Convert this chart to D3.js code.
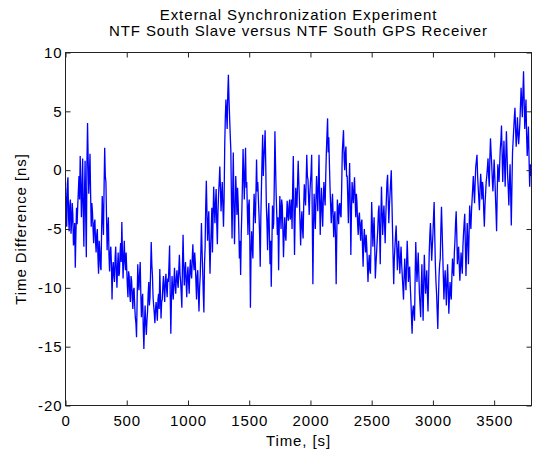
<!DOCTYPE html>
<html>
<head>
<meta charset="utf-8">
<script src="https://cdn.jsdelivr.net/npm/d3@7"></script>
<style>
  html, body { margin: 0; padding: 0; background: #fff; }
  svg { display: block; }
  text { font-family: "Liberation Sans", Arial, Helvetica, sans-serif; fill: #000; }
</style>
</head>
<body>
<svg id="chart" width="536" height="450"></svg>
<script>
// Sampling interval of the logged time difference, seconds
const sampleStep = 5;

// Slave minus GPS receiver time difference, ns (one value per sample)
const timeDiff = [
  -1.5, -3.0, -4.8, -1.2, -0.6, -4.0, -5.2, -3.0, -2.5, -5.4, -4.5, -2.8, -3.8, -6.4, -6.0, -4.5, -8.3, -5.5, -3.2, -4.6,
  -3.0, -1.8, -0.5, -2.5, 1.2, -1.0, -4.0, -2.0, 1.0, -3.5, -6.5, -2.0, 0.8, -4.0, -7.4, 0.5, 4.0, 1.0, -2.0, -0.5,
  1.4, -2.0, -4.8, -2.8, -3.5, -5.0, -6.2, -4.5, -4.2, -6.0, -7.0, -5.5, -5.0, -7.4, -8.8, -6.0, -6.8, -8.2, -8.5, -5.0,
  -2.2, -4.0, -5.5, -1.5, 1.9, -0.5, -1.0, -4.0, -6.8, -5.0, -4.0, -7.2, -8.6, -7.0, -6.5, -8.0, -11.0, -8.5, -7.8, -9.0,
  -9.5, -7.5, -6.5, -8.5, -10.0, -8.2, -7.0, -9.0, -8.8, -7.2, -6.2, -7.8, -4.4, -7.0, -9.2, -7.5, -6.0, -7.8, -8.5, -7.0,
  -8.4, -9.8, -10.8, -8.6, -9.0, -10.5, -11.2, -9.0, -9.4, -10.8, -11.8, -10.2, -10.0, -11.5, -12.5, -13.0, -14.2, -11.0, -8.0, -9.5,
  -10.2, -8.8, -7.8, -10.5, -12.5, -11.0, -10.5, -13.5, -15.2, -13.0, -11.5, -13.0, -14.0, -12.8, -12.0, -10.5, -9.5, -11.5, -10.8, -8.5,
  -6.1, -8.0, -9.0, -10.8, -11.5, -12.2, -13.0, -11.8, -11.2, -12.0, -12.8, -11.0, -10.5, -11.8, -8.4, -10.5, -12.6, -11.2, -11.0, -9.8,
  -9.0, -10.2, -11.2, -9.5, -8.8, -10.0, -10.8, -9.2, -9.5, -8.0, -6.4, -10.5, -13.9, -11.0, -9.0, -10.2, -11.0, -9.5, -8.3, -9.8,
  -10.5, -9.2, -8.5, -9.5, -10.0, -8.5, -7.2, -8.8, -9.5, -10.5, -11.7, -8.0, -5.5, -8.0, -9.8, -8.5, -7.8, -9.5, -10.8, -9.0,
  -8.2, -9.5, -10.5, -8.5, -7.6, -8.8, -9.2, -7.5, -6.3, -7.8, -8.5, -7.0, -7.9, -9.5, -11.0, -9.0, -8.5, -10.5, -12.0, -10.0,
  -9.0, -7.0, -4.5, -6.8, -8.5, -10.5, -12.1, -8.0, -6.5, -3.0, -0.9, -3.5, -6.0, -4.5, -3.5, -6.5, -8.8, -6.5, -5.0, -3.2,
  -7.0, -4.0, -1.4, -3.0, -4.5, -2.8, -1.6, -4.5, -6.3, -3.5, -2.0, -1.0, 0.3, -1.5, -3.5, -2.2, -1.0, -3.0, -4.8, -2.5,
  2.0, 4.5, 6.0, 4.8, 3.5, 6.5, 8.1, 6.0, 4.5, 3.0, 1.7, -2.5, -5.8, -2.0, 1.5, -3.0, -6.3, -3.5, -0.5, -2.0,
  -3.8, -1.5, -2.8, -5.0, -7.5, -6.0, -8.9, -5.5, -3.5, -1.0, 1.8, -0.5, -2.5, -0.2, 1.9, -1.5, -1.0, -3.5, -5.5, -3.0,
  -2.5, -6.0, -11.7, -7.0, -5.2, -6.5, -7.5, -4.0, -2.0, -3.5, -4.5, -2.0, 0.9, -1.8, -1.0, -2.5, -3.8, -5.5, -8.2, -4.0,
  -1.5, 1.0, 3.0, -0.5, 1.0, 2.0, 3.4, 0.5, -3.0, -4.5, -6.8, -4.0, -2.8, -5.5, -8.0, -6.0, -9.9, -6.5, -3.0, -5.0,
  -4.5, -1.0, 3.3, 0.5, -2.0, -3.8, -5.5, -4.0, -8.5, -5.0, -2.2, -3.5, -5.0, -2.5, -3.0, -5.0, -7.4, -5.5, -4.0, -5.5,
  -6.0, -4.0, -2.6, -3.8, -4.3, -3.0, -2.5, -4.2, -3.8, -2.5, -5.0, -1.5, 1.2, -3.0, -7.2, -4.0, -1.5, -2.5, -3.2, -1.0,
  0.8, -1.0, -2.5, -4.5, -6.4, -4.5, -3.5, -5.0, -5.8, -3.0, -1.2, -2.2, -3.0, -1.0, 1.3, -0.5, -0.8, -2.5, -3.8, -2.0,
  -1.0, -0.2, 1.3, -4.0, -9.7, -5.0, -2.0, -3.5, -5.0, -2.5, -0.5, -2.0, -3.5, -1.0, 1.3, -2.5, -5.5, -3.0, -1.5, -3.5,
  -4.8, -2.5, -1.0, -2.2, -3.0, -0.5, 1.5, 3.0, 4.4, 1.5, 2.8, 0.5, -1.5, -3.0, -4.5, -3.0, -2.0, -3.8, -5.7, -4.0,
  -3.5, -6.0, -9.7, -5.5, -2.5, -3.5, -4.6, -3.0, -2.8, -3.8, -4.0, -1.5, 1.5, 2.5, 3.4, 1.0, 0.0, 1.5, 2.0, -0.5,
  -0.5, -2.5, -4.5, -1.5, 0.6, -3.0, -7.2, -3.5, -1.0, -2.0, -2.8, -1.5, -0.6, -2.5, -4.0, -2.0, -2.8, -4.5, -5.5, -4.0,
  -3.6, -5.0, -6.0, -4.5, -4.2, -6.5, -8.2, -6.0, -5.0, -6.2, -7.0, -5.5, -6.5, -8.0, -9.5, -8.0, -7.2, -8.5, -8.8, -6.0,
  -2.7, -4.5, -6.5, -5.0, -4.0, -6.5, -9.2, -8.0, -7.0, -6.0, -5.0, -3.5, -3.0, -5.5, -8.0, -4.0, -1.4, -3.5, -5.5, -4.0,
  -3.0, -4.5, -6.2, -4.0, -2.5, -1.0, -0.4, -2.5, -4.5, -3.0, -2.0, -1.0, 0.0, -2.5, -5.0, -7.5, -9.7, -7.5, -6.5, -5.5,
  -4.7, -6.5, -8.5, -7.0, -6.0, -7.5, -8.8, -7.5, -6.5, -8.0, -9.0, -10.0, -11.0, -9.0, -7.5, -9.0, -10.2, -8.0, -6.0, -7.5,
  -9.5, -8.5, -8.2, -9.8, -11.0, -12.5, -13.9, -12.0, -11.5, -12.2, -12.8, -9.0, -6.1, -8.0, -9.5, -8.2, -7.0, -8.8, -10.5, -11.5,
  -12.5, -10.0, -8.0, -10.5, -12.8, -9.5, -7.2, -9.0, -10.5, -9.5, -8.5, -10.5, -12.0, -9.5, -7.0, -5.5, -4.5, -6.0, -7.7, -6.5,
  -5.5, -4.0, -2.7, -5.5, -8.0, -9.5, -10.5, -12.0, -13.5, -11.0, -9.0, -8.0, -7.5, -5.0, -3.1, -5.0, -7.0, -9.0, -11.0, -9.5,
  -8.5, -10.0, -11.5, -9.5, -8.0, -10.0, -12.2, -10.8, -9.5, -10.5, -11.0, -9.0, -7.5, -8.5, -9.0, -7.0, -6.0, -4.5, -3.5, -5.5,
  -8.0, -7.0, -6.5, -8.0, -9.4, -8.2, -7.0, -8.0, -8.8, -6.5, -5.4, -4.5, -3.7, -6.5, -9.0, -6.5, -4.5, -6.0, -8.0, -5.5,
  -3.0, -4.2, -5.0, -3.5, -2.5, -1.5, -0.5, -1.8, -2.8, -1.0, 0.3, 0.8, 1.3, -0.5, -1.5, -2.5, -3.4, -1.5, -0.3, -1.2,
  -2.5, -1.0, -1.5, -3.5, -4.8, -3.0, -2.0, -1.0, -0.5, 0.2, 1.0, -0.5, -1.4, 1.0, 2.7, 1.5, 0.5, -0.8, -1.8, -0.5,
  0.9, -0.5, -2.0, -3.5, -5.2, -2.0, 0.5, -0.2, -1.0, 0.5, 1.8, 2.5, 3.8, 1.5, -1.0, 0.8, 2.5, 0.5, -1.4, 1.0,
  3.3, 1.5, -0.5, -1.5, -3.0, -1.0, 0.5, -2.0, -4.7, -1.5, 1.5, 2.5, 3.5, 4.5, 5.3, 3.5, 2.0, 3.0, 4.5, 3.2,
  2.2, 3.0, 4.0, 5.5, 7.0, 5.8, 4.5, 6.5, 8.4, 6.0, 3.5, 4.8, 6.0, 3.0, 1.2, 2.5, 3.7, 1.0, -1.4, 0.5,
  -0.5
];

// Axis limits and tick values
const xLimits = [0, 3805];
const yLimits = [-20, 10];
const xTicks = [0, 500, 1000, 1500, 2000, 2500, 3000, 3500];
const yTicks = [-20, -15, -10, -5, 0, 5, 10];

const titleLines = ["External Synchronization Experiment",
                    "NTF South Slave versus NTF South GPS Receiver"];
const xLabel = "Time, [s]";
const yLabel = "Time Difference [ns]";

const box = { left: 65.5, right: 531.5, top: 52.5, bottom: 405.5 };
const fontSize = "15px";
const tracking = "0.9px";

const svg = d3.select("#chart");

const x = d3.scaleLinear().domain(xLimits).range([box.left, box.right]);
const y = d3.scaleLinear().domain(yLimits).range([box.bottom, box.top]);

const series = timeDiff.map((v, i) => ({ t: i * sampleStep, v }));

svg.append("defs").append("clipPath").attr("id", "plotArea")
  .append("rect")
  .attr("x", box.left).attr("y", box.top)
  .attr("width", box.right - box.left).attr("height", box.bottom - box.top);

// Data trace
svg.append("path")
  .datum(series)
  .attr("clip-path", "url(#plotArea)")
  .attr("fill", "none")
  .attr("stroke", "#0000ff")
  .attr("stroke-width", 1.3)
  .attr("d", d3.line().x(d => x(d.t)).y(d => y(d.v)));

// Axes: ticks point inward on all four sides
const tickLen = 5;
const styleAxis = g => {
  g.select(".domain").remove();
  g.selectAll(".tick line").attr("stroke", "#222");
  g.selectAll(".tick text")
    .style("font-size", fontSize)
    .style("letter-spacing", tracking)
    .attr("fill", "#000");
};

svg.append("g")
  .attr("transform", `translate(0,${box.bottom})`)
  .call(d3.axisBottom(x).tickValues(xTicks).tickFormat(d3.format("d"))
        .tickSize(-tickLen).tickPadding(10))
  .call(styleAxis);

svg.append("g")
  .attr("transform", `translate(0,${box.top})`)
  .call(d3.axisTop(x).tickValues(xTicks).tickFormat("").tickSize(-tickLen))
  .call(styleAxis);

svg.append("g")
  .attr("transform", `translate(${box.left},0)`)
  .call(d3.axisLeft(y).tickValues(yTicks).tickFormat(d => d < 0 ? "-" + Math.abs(d) : String(d))
        .tickSize(-tickLen).tickPadding(3))
  .call(styleAxis);

svg.append("g")
  .attr("transform", `translate(${box.right},0)`)
  .call(d3.axisRight(y).tickValues(yTicks).tickFormat("").tickSize(-tickLen))
  .call(styleAxis);

// Axes box
svg.append("rect")
  .attr("x", box.left).attr("y", box.top)
  .attr("width", box.right - box.left).attr("height", box.bottom - box.top)
  .attr("fill", "none").attr("stroke", "#222").attr("stroke-width", 1);

const cx = (box.left + box.right) / 2;

// Title
svg.append("g").selectAll("text")
  .data(titleLines)
  .join("text")
  .attr("x", cx)
  .attr("y", (d, i) => 20 + i * 16)
  .attr("text-anchor", "middle")
  .style("font-size", fontSize)
  .style("letter-spacing", tracking)
  .text(d => d);

// Axis labels
svg.append("text")
  .attr("x", cx).attr("y", 446)
  .attr("text-anchor", "middle")
  .style("font-size", fontSize)
  .style("letter-spacing", tracking)
  .text(xLabel);

svg.append("text")
  .attr("transform", `translate(26,${(box.top + box.bottom) / 2}) rotate(-90)`)
  .attr("text-anchor", "middle")
  .style("font-size", fontSize)
  .style("letter-spacing", tracking)
  .text(yLabel);
</script>
</body>
</html>
